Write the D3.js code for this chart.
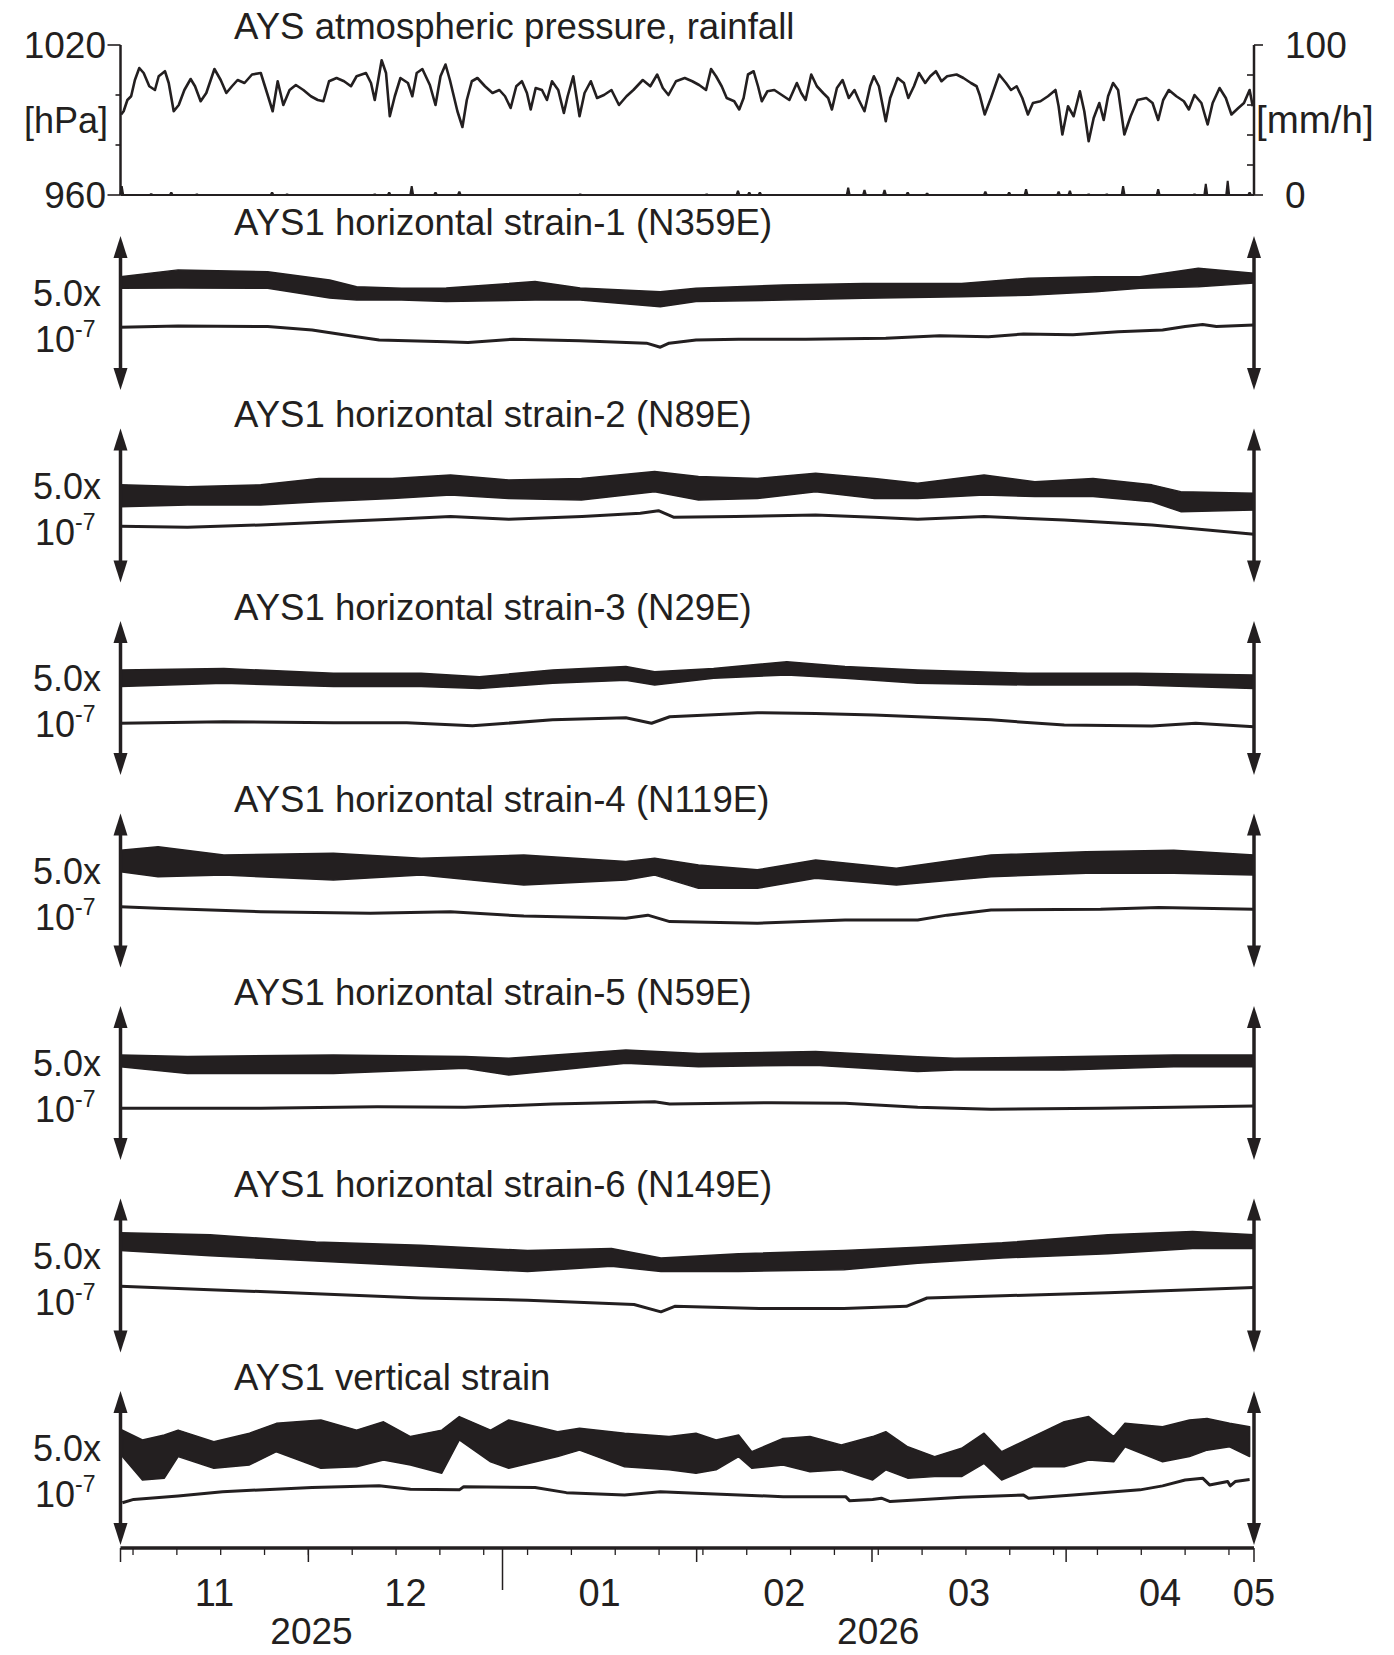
<!DOCTYPE html>
<html><head><meta charset="utf-8">
<script src="https://cdn.jsdelivr.net/npm/d3@7"></script>
<style>
body{margin:0;background:#fff}
svg text{font-family:"Liberation Sans",Arial,sans-serif;fill:#231f20}
</style>
</head><body>
<svg id="c" width="1394" height="1655"></svg>
<script>
// ---------- DATA (day = days since 2025-11-01 UTC) ----------
const monthLabels = ["11","12","01","02","03","04","05"];
const yearLabels = ["2025","2026"];
const pressureTicks = [960,980,1000,1020];
const rainTicks = [0,20,40,60,80,100];
const panelTitles = [
  "AYS atmospheric pressure, rainfall",
  "AYS1 horizontal strain-1 (N359E)",
  "AYS1 horizontal strain-2 (N89E)",
  "AYS1 horizontal strain-3 (N29E)",
  "AYS1 horizontal strain-4 (N119E)",
  "AYS1 horizontal strain-5 (N59E)",
  "AYS1 horizontal strain-6 (N149E)",
  "AYS1 vertical strain"
];
// atmospheric pressure [day, hPa]
const pressure = [[0.1,992.2],[0.5,993.5],[1.1,998],[1.7,999.5],[2.3,1006],[3.0,1010.8],[3.7,1008.8],[4.6,1003.5],[5.5,1002],[6.1,1007.5],[7.1,1009.5],[7.7,1004.8],[8.5,993.5],[9.3,996],[10.2,1002],[11.2,1006.4],[11.9,1003.5],[12.8,997.5],[13.7,1000.8],[15.0,1010.4],[16.0,1006],[16.9,1000.8],[17.8,1003.5],[18.7,1006],[19.8,1004.8],[21.0,1008.2],[22.4,1008.8],[23.4,1000.8],[24.3,993.5],[25.1,1005.5],[26.0,996],[27.0,1002],[28.0,1004],[29.2,1002],[30.4,999.5],[31.5,998],[32.4,997.5],[33.3,1005.5],[34.5,1006.8],[35.7,1005.5],[36.8,1003.5],[37.7,1007.5],[39.2,1008.8],[40.0,1004.8],[40.6,998],[41.7,1013.9],[42.4,1008.8],[43.0,991.5],[43.8,999.5],[44.7,1006.8],[45.9,1004.8],[46.6,999.5],[47.3,1008.8],[48.2,1010.4],[49.4,1004],[50.3,996],[51.1,1007.5],[51.9,1012.2],[52.6,1006],[53.8,993.5],[54.6,987.2],[55.3,998],[56.1,1005.5],[57.0,1006.8],[58.2,1003.5],[59.4,1000.8],[60.5,1002],[61.4,999.5],[62.3,994.8],[63.2,1003.5],[64.1,1005.5],[64.9,1000.8],[65.5,994.2],[66.3,1002.8],[67.3,1002],[68.1,998],[68.9,1005.5],[69.9,1002],[70.8,992.8],[71.4,999.5],[72.3,1007.5],[73.3,991.5],[74.1,1000.8],[75.1,1005.5],[76.1,998.8],[77.2,1000],[78.4,1002],[79.6,996],[80.8,999.5],[81.9,1002],[83.4,1006],[84.6,1003.5],[85.7,1008.2],[86.6,1002.8],[87.5,1000],[88.7,1005.5],[90.1,1006.8],[91.3,1005.5],[92.4,1004],[93.5,1002],[94.3,1010.4],[95.1,1007.5],[96.0,1003.5],[96.8,998.8],[98.0,997.5],[98.8,994.2],[99.5,998.8],[100.2,1008.2],[101.1,1009.5],[101.8,1003.5],[102.4,997.5],[103.3,1001.5],[104.4,1002],[105.6,1000],[106.8,998],[108.0,1004.8],[108.7,1000.8],[109.4,998],[110.3,1008.2],[111.2,1003.5],[112.2,1000.8],[113.0,998.8],[113.6,994.2],[114.4,1002.8],[115.3,1006],[116.3,998.8],[117.2,1002],[117.9,998],[118.8,993.5],[119.7,1003.5],[120.3,1007.5],[121.1,1003.5],[122.2,989.5],[122.9,998.8],[124.1,1006.8],[125.1,1004.8],[125.8,998.8],[126.7,1003.5],[127.5,1008.8],[128.5,1004.8],[129.3,1007.5],[130.2,1009.5],[131.1,1005.5],[132.0,1007.5],[133.5,1008.2],[134.6,1006.8],[135.8,1004.8],[136.7,1003.5],[137.2,1000],[138.0,992.2],[139.0,998.8],[140.3,1008.2],[141.4,1004.8],[142.2,1002],[143.1,1003.5],[144.0,998.8],[144.9,992.2],[145.7,996.8],[146.9,997.5],[148.1,999.5],[149.3,1002],[149.8,995.5],[150.4,984.2],[151.3,995.5],[152.2,991.5],[153.2,1001.5],[153.9,993.5],[154.6,981.5],[155.4,990.8],[156.3,996.8],[157.0,990],[157.7,999.5],[158.5,1004.8],[159.3,1002],[160.3,984.2],[161.3,991.5],[162.4,998],[163.8,998.8],[164.8,996.8],[165.7,990],[166.5,998],[167.4,1002],[168.6,999.5],[169.8,997.5],[170.6,994.2],[171.5,1000],[172.6,996.8],[173.6,988.2],[174.4,996.8],[175.5,1002.8],[176.5,998.8],[177.4,992.2],[178.5,994.8],[179.4,996.8],[180.3,1002],[180.8,995.5]];
// rainfall [day, mm/h]
const rainfall = [[0.2,6],[4.9,1.2],[8.1,2],[12.2,1],[24.2,2],[26.6,1],[40.6,1],[42.9,2],[46.5,6],[50.3,2],[54.1,2.5],[73.4,1],[93.6,1],[98.6,3],[100.4,2],[102.1,2],[116.2,5],[118.8,3.5],[122.0,3.5],[125.7,2],[128.8,1.5],[138.1,2.5],[141.9,2],[144.6,4],[149.8,2.5],[151.6,3],[154.6,1],[157.5,1],[160.1,6],[165.7,4],[171.5,1],[173.3,7.5],[176.8,9.5],[180.3,2]];
// strain, units of 1e-7 within each 5.0e-7 panel: tidal band [day, upper, lower], trend [day, value]
const h1Band = [[0,3.68,3.30],[9.2,3.90,3.31],[23.5,3.84,3.30],[33.4,3.57,2.99],[37.7,3.35,2.92],[44.9,3.30,2.92],[52,3.31,2.87],[66.2,3.52,2.92],[73.4,3.31,2.92],[86.2,3.19,2.70],[91.9,3.30,2.87],[105.8,3.41,2.92],[118.6,3.46,2.98],[134.3,3.46,3.03],[145,3.63,3.08],[155.7,3.68,3.19],[162.8,3.68,3.30],[172.1,3.95,3.35],[181,3.79,3.47]];
const h1Trend = [[0,2.04],[9.2,2.08],[23.5,2.06],[30.6,1.95],[37.7,1.73],[41.3,1.62],[52,1.57],[55.5,1.54],[62.7,1.65],[73.3,1.60],[84,1.52],[86.2,1.39],[87.6,1.52],[91.9,1.62],[98.7,1.65],[109.4,1.65],[122.2,1.68],[130.8,1.76],[138.6,1.73],[144.2,1.82],[152.1,1.79],[159.3,1.89],[166.4,1.95],[170,2.06],[172.8,2.13],[175,2.06],[181,2.11]];
const h2Band = [[0,3.17,2.46],[10.7,3.11,2.52],[22.4,3.17,2.52],[31.7,3.38,2.62],[43.4,3.38,2.73],[52.7,3.49,2.84],[62,3.33,2.73],[73.6,3.38,2.68],[85.3,3.60,2.95],[92.3,3.44,2.68],[101.7,3.38,2.73],[111,3.55,2.95],[120.4,3.38,2.73],[127.3,3.22,2.73],[137.9,3.49,2.84],[146,3.27,2.79],[155.3,3.38,2.79],[164.7,3.17,2.62],[169.3,2.95,2.30],[181,2.90,2.35]];
const h2Trend = [[0,1.83],[10.7,1.79],[22.4,1.87],[34,1.97],[43.4,2.05],[52.7,2.14],[62,2.05],[73.7,2.14],[83,2.25],[85.9,2.33],[88.3,2.12],[98.2,2.14],[111,2.19],[120.3,2.12],[127.3,2.05],[137.9,2.14],[150.7,2.03],[164.7,1.87],[174,1.70],[181,1.57]];
const h3Band = [[0,3.41,2.87],[16.5,3.46,2.98],[34,3.30,2.87],[48,3.30,2.87],[57.3,3.19,2.81],[69,3.41,2.98],[80.7,3.52,3.08],[85.3,3.35,2.92],[94.7,3.46,3.14],[106.4,3.68,3.25],[115.7,3.52,3.14],[127.3,3.41,2.98],[144.9,3.30,2.92],[162.3,3.30,2.92],[181,3.25,2.81]];
const h3Trend = [[0,1.68],[16.5,1.73],[34,1.70],[45.7,1.70],[56.2,1.60],[69,1.79],[80.7,1.86],[84.8,1.68],[87.7,1.89],[101.7,2.02],[111,2.00],[120.3,1.95],[127.3,1.89],[139,1.79],[150.7,1.62],[164.7,1.59],[171.7,1.68],[181,1.57]];
const h4Band = [[0,3.81,3.11],[6,3.92,2.95],[16.5,3.65,3.00],[34,3.71,2.84],[48,3.55,3.00],[64.4,3.65,2.68],[80.7,3.44,2.84],[85.3,3.55,3.00],[92.3,3.33,2.57],[101.7,3.17,2.57],[111,3.49,2.90],[123.9,3.22,2.68],[139,3.65,2.95],[154.2,3.76,3.06],[168.2,3.81,3.06],[181,3.65,3.00]];
const h4Trend = [[0,1.97],[6,1.92],[22.4,1.81],[39.9,1.76],[52.7,1.81],[64.4,1.67],[80.7,1.60],[84.2,1.70],[87.7,1.49],[101.7,1.44],[115.7,1.54],[127.3,1.54],[132,1.70],[139,1.87],[156.5,1.89],[165.8,1.95],[181,1.89]];
const h5Band = [[0,3.41,3.03],[10.7,3.36,2.81],[34,3.41,2.81],[55,3.36,2.98],[62,3.30,2.76],[80.7,3.57,3.14],[92.3,3.46,3.03],[111,3.52,3.08],[127.3,3.35,2.87],[133.2,3.30,2.92],[150.6,3.35,2.92],[168.2,3.41,3.03],[181,3.41,3.03]];
const h5Trend = [[0,1.68],[22.4,1.68],[41,1.73],[55,1.71],[69,1.82],[85.3,1.89],[87.7,1.82],[104,1.86],[115.7,1.84],[127.3,1.71],[139,1.65],[156.5,1.68],[168.2,1.71],[181,1.75]];
const h6Band = [[0,3.89,3.31],[14.3,3.82,3.14],[31.2,3.59,2.97],[48,3.48,2.80],[65,3.31,2.63],[78.4,3.38,2.80],[86.3,3.07,2.63],[98.7,3.21,2.63],[115.5,3.31,2.69],[127.3,3.42,2.90],[140.8,3.56,3.07],[157.7,3.82,3.21],[171.2,3.93,3.38],[181,3.82,3.38]];
const h6Trend = [[0,2.15],[14.3,2.04],[31.2,1.91],[48,1.77],[65,1.70],[82,1.56],[86.3,1.32],[88.5,1.50],[102,1.43],[115.5,1.43],[125.5,1.50],[128.8,1.77],[140.8,1.84],[157.7,1.94],[181,2.11]];
const vBand = [[0.3,3.73,2.87],[3.5,3.41,2.11],[7,3.57,2.17],[9.2,3.73,2.87],[14.9,3.35,2.49],[20.6,3.63,2.60],[24.9,3.95,3.03],[32,4.06,2.49],[37.7,3.73,2.54],[42,4.00,2.76],[46.3,3.52,2.60],[51.3,3.73,2.33],[54.1,4.17,3.41],[59.1,3.73,2.70],[62,4.06,2.49],[69.8,3.68,2.87],[73.3,3.79,3.08],[80.5,3.63,2.54],[87.6,3.52,2.44],[91.9,3.63,2.33],[95.1,3.41,2.44],[98.7,3.57,2.87],[100.8,3.03,2.49],[105.8,3.46,2.60],[110.1,3.52,2.38],[115.1,3.25,2.44],[120.1,3.52,2.11],[122.2,3.68,2.44],[125.7,3.19,2.17],[130,2.87,2.22],[134.3,3.14,2.22],[137.9,3.63,2.65],[140.7,3.03,2.11],[145.7,3.52,2.54],[150.7,4.00,2.54],[154.6,4.17,2.76],[158.6,3.52,2.70],[160.4,3.95,3.19],[166.4,3.84,2.70],[170.7,4.06,2.87],[173.5,4.11,3.08],[177.1,3.95,3.19],[180.3,3.84,2.87]];
const vTrend = [[0.3,1.37],[2.1,1.48],[9.2,1.59],[16.3,1.73],[30.6,1.87],[41.3,1.92],[46.3,1.81],[54.1,1.79],[54.8,1.89],[66.2,1.87],[71.2,1.70],[80.5,1.62],[86.2,1.73],[91.9,1.68],[105.8,1.57],[115.8,1.57],[116.4,1.44],[120.1,1.48],[121.5,1.52],[122.9,1.41],[134.3,1.55],[144.2,1.62],[145,1.52],[152.1,1.62],[162.8,1.79],[166.4,1.92],[170,2.11],[172.8,2.17],[173.9,1.95],[176.8,2.06],[177.2,1.92],[178,2.06],[180.3,2.13]];

// ---------- DRAW ----------
const ink = "#231f20";
const svg = d3.select("#c");
const t0 = Date.UTC(2025,10,1);
const dayDate = d => new Date(t0 + d*864e5);
const x = d3.scaleUtc().domain([new Date(Date.UTC(2025,10,1)), new Date(Date.UTC(2026,4,1))]).range([120.5,1254]);
const xL = x.range()[0], xR = x.range()[1];

// top panel
const topY0 = 45, topY1 = 195;
const yP = d3.scaleLinear().domain([960,1020]).range([topY1, topY0]);
const yR = d3.scaleLinear().domain([0,100]).range([topY1, topY0]);
const gTop = svg.append("g");
gTop.append("text").attr("x",234).attr("y",39).attr("font-size",36.6).text(panelTitles[0]);
// left axis
gTop.append("line").attr("x1",xL).attr("x2",xL).attr("y1",yP(1020)).attr("y2",yP(960)).attr("stroke",ink).attr("stroke-width",2.5);
gTop.selectAll(".lt").data(pressureTicks).join("line")
  .attr("x1",d=> (d===960||d===1020)? xL-13 : xL-5).attr("x2",xL)
  .attr("y1",d=>yP(d)).attr("y2",d=>yP(d)).attr("stroke",ink).attr("stroke-width",1.6);
gTop.append("line").attr("x1",xR).attr("x2",xR).attr("y1",yR(100)).attr("y2",yR(0)).attr("stroke",ink).attr("stroke-width",2.5);
gTop.selectAll(".rt").data(rainTicks).join("line")
  .attr("x1",xR).attr("x2",d=> (d===0||d===100)? xR+9 : xR-7)
  .attr("y1",d=>yR(d)).attr("y2",d=>yR(d)).attr("stroke",ink).attr("stroke-width",1.6);
const lblL = [[1020,"1020"],[960,"960"]];
gTop.selectAll(".ll").data(lblL).join("text").attr("x",106).attr("y",d=>yP(d[0])+13).attr("text-anchor","end").attr("font-size",37).text(d=>d[1]);
gTop.append("text").attr("x",108).attr("y",yP(990)+13).attr("text-anchor","end").attr("font-size",36).text("[hPa]");
const lblR = [[100,"100"],[0,"0"]];
gTop.selectAll(".lr").data(lblR).join("text").attr("x",1285).attr("y",d=>yR(d[0])+13).attr("font-size",37).text(d=>d[1]);
gTop.append("text").attr("x",1256).attr("y",yR(50)+13).attr("font-size",38.5).text("[mm/h]");
// rain baseline & bars
gTop.append("line").attr("x1",xL).attr("x2",xR).attr("y1",yR(0)).attr("y2",yR(0)).attr("stroke",ink).attr("stroke-width",1.8);
gTop.selectAll(".rain").data(rainfall).join("path")
  .attr("d",d=>{const cx=x(dayDate(d[0])), yb=yR(0), yt=yR(d[1]); return `M${cx-2.5},${yb}L${cx-1},${yt}L${cx+1},${yt}L${cx+2.5},${yb}Z`;})
  .attr("fill",ink);
gTop.append("path").datum(pressure)
  .attr("d",d3.line().x(d=>x(dayDate(d[0]))).y(d=>yP(d[1])))
  .attr("fill","none").attr("stroke",ink).attr("stroke-width",2.6).attr("stroke-linejoin","round");

// strain panels
const strainPanels = [
  {band:h1Band, trend:h1Trend},{band:h2Band, trend:h2Trend},{band:h3Band, trend:h3Trend},
  {band:h4Band, trend:h4Trend},{band:h5Band, trend:h5Trend},{band:h6Band, trend:h6Trend},
  {band:vBand, trend:vTrend}
];
const panelH = 154, panelStep = 192.5, firstTop = 236;
function arrow(g, xc, T, B){
  g.append("line").attr("x1",xc).attr("x2",xc).attr("y1",T+18).attr("y2",B-18).attr("stroke",ink).attr("stroke-width",3.5);
  g.append("path").attr("d",`M${xc},${T}L${xc-7},${T+22}L${xc+7},${T+22}Z`).attr("fill",ink);
  g.append("path").attr("d",`M${xc},${B}L${xc-7},${B-22}L${xc+7},${B-22}Z`).attr("fill",ink);
}
strainPanels.forEach((p,k)=>{
  const T = firstTop + panelStep*k, B = T + panelH;
  const y = d3.scaleLinear().domain([0,5]).range([B,T]);
  const g = svg.append("g");
  g.append("text").attr("x",234).attr("y",T-1.5).attr("font-size",36.6).text(panelTitles[k+1]);
  g.append("text").attr("x",101).attr("y",T+70).attr("text-anchor","end").attr("font-size",36).text("5.0x");
  const t = g.append("text").attr("x",35).attr("y",T+116).attr("font-size",36);
  t.append("tspan").text("10");
  t.append("tspan").attr("font-size",23).attr("dy",-15).text("-7");
  g.append("path").datum(p.band)
    .attr("d",d3.area().x(d=>x(dayDate(d[0]))).y0(d=>y(d[2])).y1(d=>y(d[1])))
    .attr("fill",ink).attr("stroke",ink).attr("stroke-width",1.5).attr("stroke-linejoin","round");
  g.append("path").datum(p.trend)
    .attr("d",d3.line().x(d=>x(dayDate(d[0]))).y(d=>y(d[1])))
    .attr("fill","none").attr("stroke",ink).attr("stroke-width",3).attr("stroke-linejoin","round");
  arrow(g, xL, T, B);
  arrow(g, xR, T, B);
});

// x axis
const axisY = 1548;
const gx = svg.append("g");
gx.append("line").attr("x1",xL).attr("x2",xR).attr("y1",axisY).attr("y2",axisY).attr("stroke",ink).attr("stroke-width",3.5);
const weekTicks = d3.utcMonday.range(x.domain()[0], x.domain()[1]);
gx.selectAll(".wk").data(weekTicks).join("line")
  .attr("x1",d=>x(d)).attr("x2",d=>x(d)).attr("y1",axisY).attr("y2",axisY+7).attr("stroke",ink).attr("stroke-width",1.3);
const monthTicks = d3.utcMonth.range(x.domain()[0], d3.utcDay.offset(x.domain()[1],1));
gx.selectAll(".mo").data(monthTicks).join("line")
  .attr("x1",d=>x(d)).attr("x2",d=>x(d)).attr("y1",axisY)
  .attr("y2",d=> d.getUTCMonth()===0 ? axisY+42 : axisY+14).attr("stroke",ink).attr("stroke-width",1.5);
gx.selectAll(".ml").data(monthTicks).join("text")
  .attr("x",(d,i)=> i===monthTicks.length-1 ? x(d) : x(new Date((+d + +d3.utcMonth.offset(d,1))/2)))
  .attr("y",1606).attr("text-anchor","middle").attr("font-size",38).text((d,i)=>monthLabels[i]);
const yearBounds = [[x.domain()[0], new Date(Date.UTC(2026,0,1))],[new Date(Date.UTC(2026,0,1)), x.domain()[1]]];
gx.selectAll(".yl").data(yearBounds).join("text")
  .attr("x",d=>(x(d[0])+x(d[1]))/2).attr("y",1644).attr("text-anchor","middle").attr("font-size",37).text((d,i)=>yearLabels[i]);
</script>
</body></html>
